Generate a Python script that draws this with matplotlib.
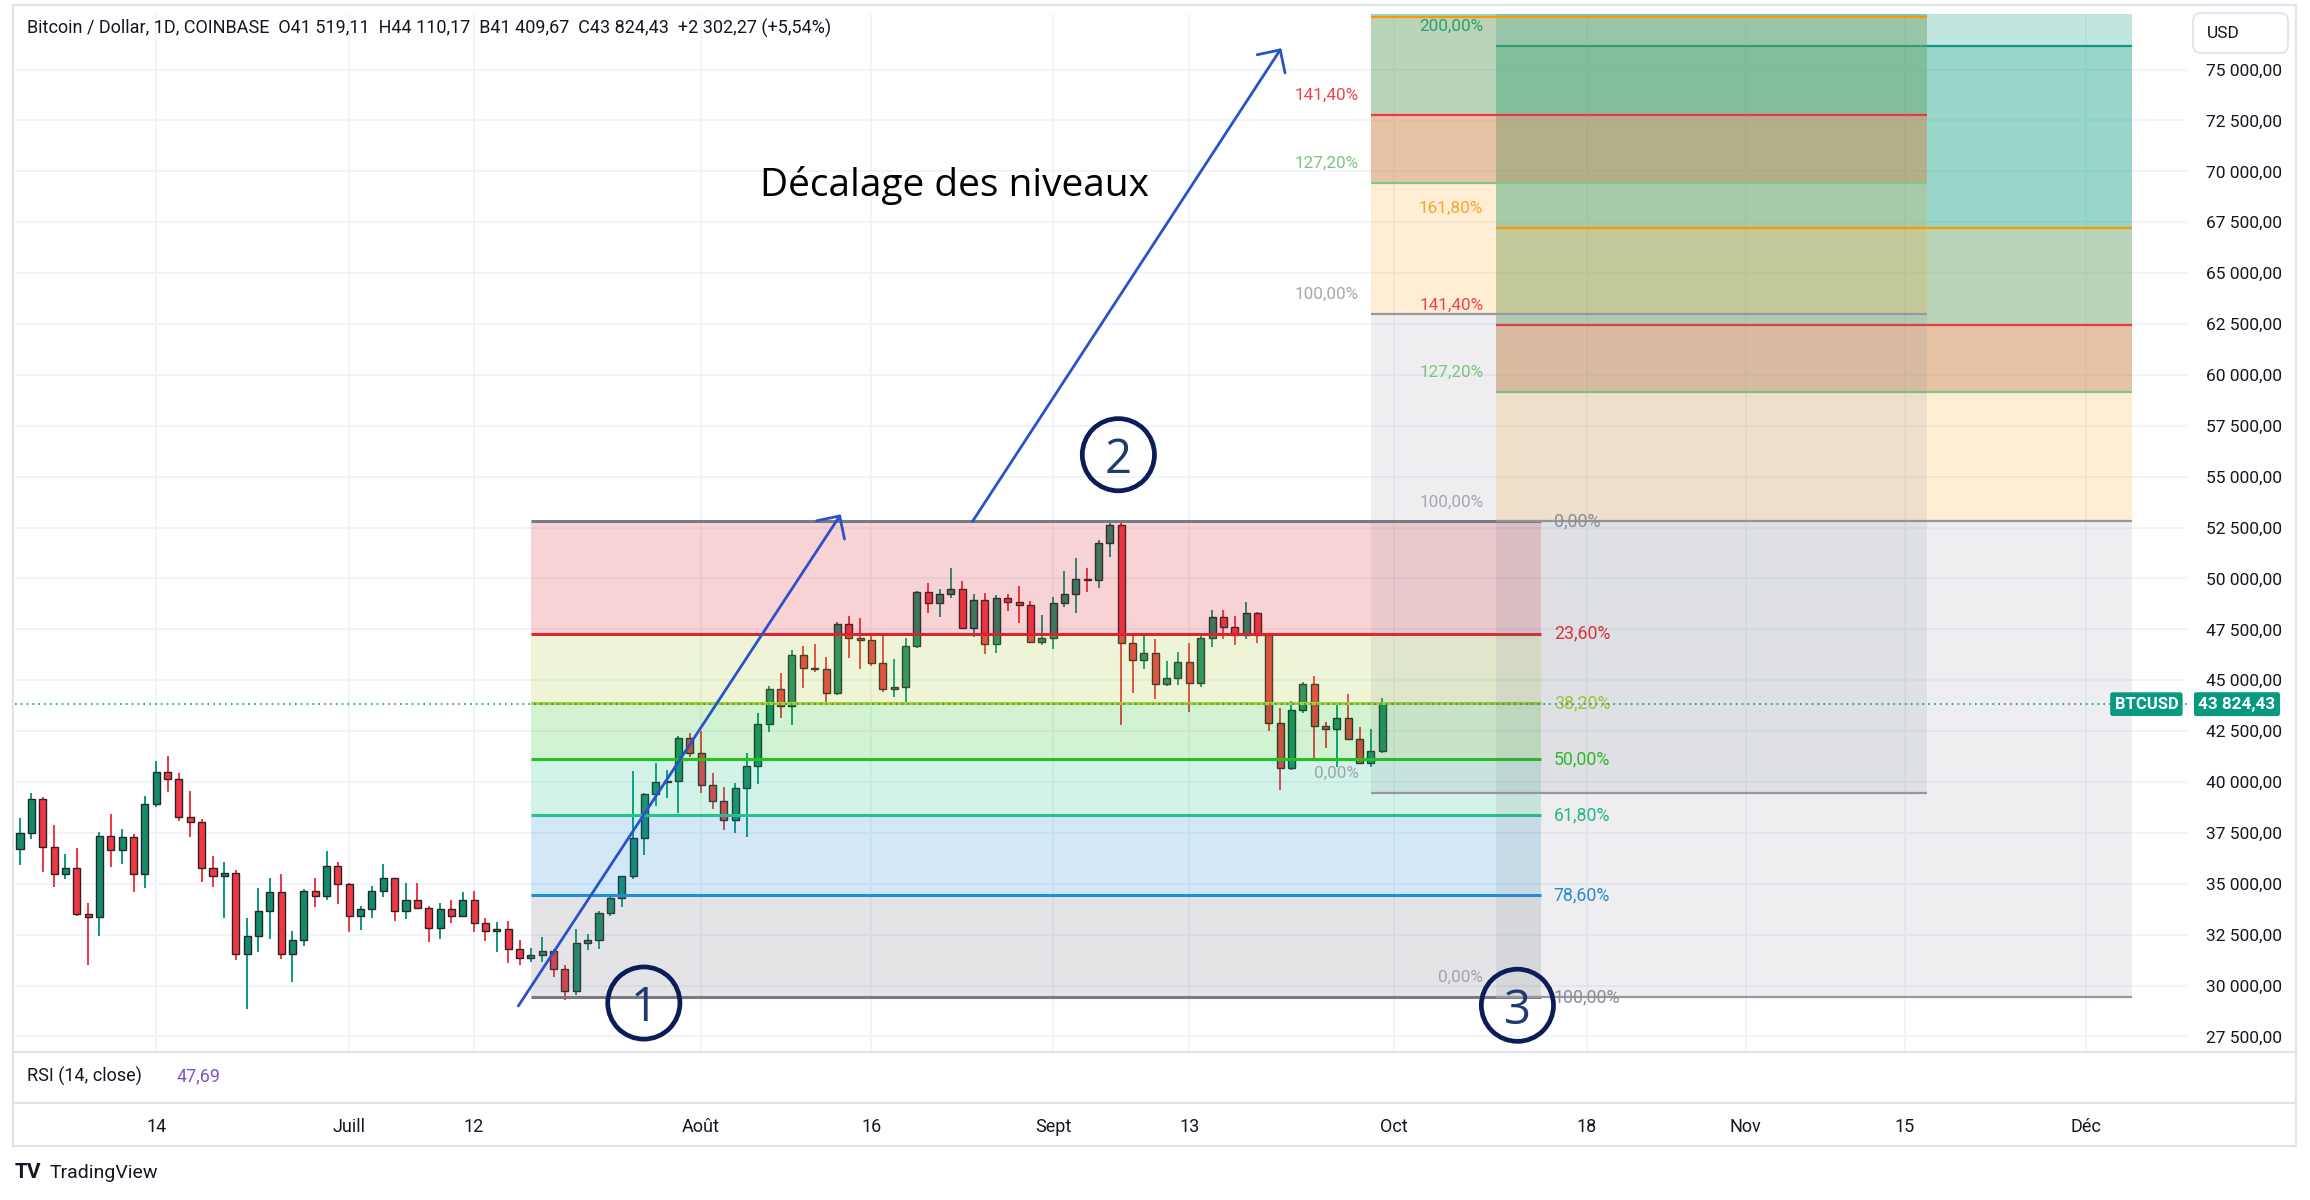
import numpy as np
import matplotlib.pyplot as plt
import matplotlib.transforms as mtransforms
from matplotlib.lines import Line2D
from matplotlib.patches import FancyBboxPatch

plt.rcParams['font.family'] = ['Roboto', 'DejaVu Sans']

W, H = 2310, 1200

# BTC / USD daily candles, Coinbase, 2 June -> 30 Sept 2021
opens = [36690, 37500, 39170, 36820, 35460, 35780, 33520, 33350, 37360, 36660,
         37280, 35460, 38920, 40510, 40130, 38300, 38020, 35760, 35380, 35550,
         31530, 32450, 33660, 34580, 31530, 32240, 34650, 34420, 35870,
         34990, 33420, 33760, 34650, 35270, 33660, 34200, 33830, 32810, 33740,
         33430, 34200, 33090, 32680, 32780, 31780, 31340, 31480, 31710, 30810,
         29750, 32070, 32240, 33580, 34290, 35390, 37230, 39390, 39980, 40050, 42180,
         41410, 39850, 39080, 38130, 39690, 40800, 42850, 44570, 43730, 46240,
         45580, 45530, 44360, 47750, 47060, 46980, 45860, 44570, 44650, 46680,
         49320, 48780, 49240, 49470, 47580, 48940, 46760, 49020, 48860, 48700, 46890,
         47060, 48780, 49230, 49990, 49920, 51730, 52630, 46810, 45990, 46320,
         44810, 45090, 45910, 44850, 47060, 48120, 47630, 47220, 48290, 47220,
         42910, 40670, 43540, 44800, 42750, 42600, 43130, 42100, 40950, 41520]
highs = [38230, 39480, 39250, 37900, 36450, 36780, 34070, 37530, 38410, 37670,
         37450, 39310, 41050, 41300, 40460, 39560, 38180, 36380, 36090, 35680,
         33300, 34810, 35270, 35480, 32700, 34730, 35270, 36630, 36090,
         35020, 33910, 34890, 35960, 35270, 35020, 35020, 33910, 34040, 34200,
         34580, 34660, 33300, 33100, 33170, 32240, 31860, 32400, 31810, 31010,
         32760, 32530, 33650, 34500, 35400, 40540, 39450, 40920, 40590, 42260, 42390,
         42520, 40460, 39770, 39930, 41440, 43370, 44720, 45340, 46490, 46700,
         46780, 46160, 47880, 48160, 48040, 47170, 47170, 46030, 47060, 49390,
         49770, 49500, 50500, 49860, 49260, 49300, 49180, 49240, 49630, 48900, 48200,
         49110, 50380, 50990, 50530, 51890, 52780, 52780, 47250, 47250, 47010,
         45940, 46400, 46850, 47220, 48450, 48450, 48160, 48830, 48370, 47300,
         43620, 44000, 44930, 45210, 42960, 43780, 44320, 42720, 42590, 44110]
lows = [35900, 37200, 35600, 34850, 35220, 33400, 31000, 32430, 35840, 35970,
        34610, 34780, 38750, 39520, 38100, 37310, 35100, 34860, 33330, 31250,
        28830, 31660, 32270, 31290, 30160, 31960, 33840, 34200, 34010,
        32650, 32730, 33300, 34370, 33170, 33250, 33790, 32120, 32290, 33060,
        33350, 32650, 32200, 31630, 31090, 31010, 31160, 31160, 30400, 29300,
        29530, 31750, 31800, 33400, 33880, 35230, 36410, 38820, 39200, 38460, 41240,
        39440, 38660, 37640, 37480, 37310, 39900, 42440, 43130, 42800, 44600,
        45420, 43860, 44270, 46080, 45540, 45700, 44400, 44190, 43950, 46600,
        48280, 48100, 49050, 47550, 47110, 46290, 46360, 48420, 47800, 46880, 46730,
        46520, 48600, 48290, 49350, 49510, 51040, 42800, 44390, 45530, 44060,
        44720, 44770, 43420, 44680, 46650, 47010, 46730, 47010, 46810, 42520,
        39610, 40590, 43370, 41160, 41650, 40750, 42090, 40880, 40720, 41410]
closes = [37500, 39170, 36820, 35460, 35780, 33520, 33350, 37360, 36660, 37280,
          35460, 38920, 40510, 40130, 38300, 38020, 35760, 35380, 35550, 31530,
          32450, 33660, 34580, 31530, 32240, 34650, 34420, 35870, 34990,
          33420, 33760, 34650, 35270, 33660, 34200, 33830, 32810, 33740, 33430,
          34200, 33090, 32680, 32780, 31780, 31340, 31480, 31710, 30810, 29750,
          32070, 32240, 33580, 34290, 35390, 37230, 39390, 39980, 40050, 42180, 41410,
          39850, 39080, 38130, 39690, 40800, 42850, 44570, 43730, 46240, 45580,
          45530, 44360, 47750, 47060, 46980, 45860, 44570, 44650, 46680, 49320,
          48780, 49240, 49470, 47580, 48940, 46760, 49020, 48860, 48700, 46890, 47060,
          48780, 49230, 49990, 49920, 51730, 52630, 46810, 45990, 46320, 44810,
          45090, 45910, 44850, 47060, 48120, 47630, 47220, 48290, 47220, 42910,
          40670, 43540, 44800, 42750, 42600, 43130, 42100, 40950, 41520, 43824.43]

last_bar = [41519.11, 44110.17, 41409.67, 43824.43]
change, change_pct = 2302.27, 5.54
rsi_value = 47.69

origin = np.datetime64('2021-06-14')
dates = np.arange('2021-06-02', '2021-10-01', dtype='datetime64[D]')
days = (dates - origin).astype(int)


def day_of(s):
    return int((np.datetime64(s) - origin).astype(int))


tick_dates = ['2021-06-14', '2021-07-01', '2021-07-12', '2021-08-01', '2021-08-16', '2021-09-01',
              '2021-09-13', '2021-10-01', '2021-10-18', '2021-11-01', '2021-11-15', '2021-12-01']
tick_labels = ['14', 'Juill', '12', 'Août', '16', 'Sept', '13', 'Oct', '18', 'Nov', '15', 'Déc']
price_ticks = np.arange(27500, 75001, 2500)

# fibonacci retracement (swing low 20 juill -> high 7 sept)
fib_high, fib_low = 52800, 29440
fib_start, fib_end = '2021-07-17', '2021-10-14'
fib_levels = [0, 0.236, 0.382, 0.5, 0.618, 0.786, 1]
fib_colors = ['#787b86', '#dc2430', '#aacd32', '#1fc41f', '#26c28c', '#1e8fd2', '#787b86']
fib_label_colors = ['#8a8d96', '#d8343c', '#a2c03a', '#2db92d', '#22b887', '#2a8ad0', '#8a8d96']

# trend based fib extensions
ext_levels = [0, 1, 1.272, 1.414, 1.618, 2.0, 2.272]
ext_line_colors = ['#9598a1', '#9598a1', '#81c784', '#f23645', '#ff9800', '#089981']
ext_label_colors = ['#a0a3ab', '#a6a8b0', '#7cc47f', '#f0424f', '#f7a530', '#2e9c6c']
ext_fills = [('#787b86', 0.12), ('#ff9800', 0.17), ('#cd894b', 0.5),
             ('#67a367', 0.46), ('#31af95', 0.5), ('#31af95', 0.3)]
ext_a = dict(base=39460, rng=23550, start='2021-09-29', end='2021-11-17', n_lines=5, n_fills=5)
ext_b = dict(base=29440, rng=23360, start='2021-10-10', end='2021-12-05', n_lines=6, n_fills=6)

# hand drawn annotations (day offset, price)
arrows = [((31.9, 29000), (60.3, 53150)), ((71.9, 52800), (99.1, 76050))]
circles = [(42.95, 29140, '1'), (84.75, 56080, '2'), (119.9, 29030, '3')]
note_pos = (53.2, 69300)

fig = plt.figure(figsize=(W / 100, H / 100), dpi=100)


def fig_rect(l, t, r, b):
    return [l / W, 1 - b / H, (r - l) / W, (b - t) / H]


ax = fig.add_axes(fig_rect(15, 14, 2187, 1052))
ax_rsi = fig.add_axes(fig_rect(15, 1052, 2187, 1103))
xlim = (-12.44, 178.88)
ylim = (26734, 77732)
ax.set_xlim(*xlim)
ax_rsi.set_xlim(*xlim)
ax.set_ylim(*ylim)
for a in (ax, ax_rsi):
    for s in a.spines.values():
        s.set_visible(False)

ax.set_xticks([day_of(d) for d in tick_dates])
ax.set_yticks(price_ticks)
ax.set_yticklabels([f'{v:,.2f}'.replace(',', ' ').replace('.', ',') for v in price_ticks])
ax.yaxis.tick_right()
ax.tick_params(axis='x', length=0, labelbottom=False)
ax.tick_params(axis='y', length=0, pad=14, labelsize=12.5, labelcolor='#131722')
ax.grid(True, color='#f0f3fa', lw=1.3)
ax.set_axisbelow(True)

ax_rsi.set_yticks([])
ax_rsi.set_xticks([day_of(d) for d in tick_dates])
ax_rsi.set_xticklabels(tick_labels)
ax_rsi.tick_params(axis='x', length=0, pad=11, labelsize=13, labelcolor='#131722')

# candles
o, h, l, c = map(np.array, (opens, highs, lows, closes))
up = c >= o
body_col = np.where(up, '#138c6e', '#f23645')
wick_col = np.where(up, '#089981', '#f23645')
ax.vlines(days, l, h, colors=wick_col, lw=1.4, zorder=2)
ax.bar(days, np.maximum(np.abs(c - o), 70), bottom=np.minimum(o, c), width=0.62,
       color=body_col, edgecolor='#262626', linewidth=1.0, zorder=2.1)

# retracement
fx0, fx1 = day_of(fib_start), day_of(fib_end)
fib_prices = [fib_high - k * (fib_high - fib_low) for k in fib_levels]
for i in range(1, len(fib_levels)):
    ax.fill_between([fx0, fx1], fib_prices[i - 1], fib_prices[i], color=fib_colors[i],
                    alpha=0.2, lw=0, zorder=3)
for k, p, col, lcol in zip(fib_levels, fib_prices, fib_colors, fib_label_colors):
    ax.hlines(p, fx0, fx1, colors=col, lw=2.2, zorder=3.5)
    ax.annotate(f'{k * 100:.2f}%'.replace('.', ','), (fx1, p), xytext=(9, 0),
                textcoords='offset points', ha='left', va='center', color=lcol,
                fontsize=12.8, zorder=5)


def draw_ext(base, rng, start, end, n_lines, n_fills, z):
    x0, x1 = day_of(start), day_of(end)
    prices = [base + k * rng for k in ext_levels]
    for i in range(n_fills):
        col, alpha = ext_fills[i]
        ax.fill_between([x0, x1], prices[i], prices[i + 1], color=col, alpha=alpha,
                        lw=0, zorder=z)
    for i in range(n_lines):
        ax.hlines(prices[i], x0, x1, colors=ext_line_colors[i], lw=1.6, zorder=z + 0.05)
        if prices[i] + 1500 > ylim[1]:
            continue  # label would sit above the pane
        ax.annotate(f'{ext_levels[i] * 100:.2f}%'.replace('.', ','), (x0, prices[i]),
                    xytext=(-9, 14), textcoords='offset points', ha='right', va='center',
                    color=ext_label_colors[i], fontsize=12.3, zorder=5)


draw_ext(**ext_b, z=3.6)
draw_ext(**ext_a, z=3.8)

# last price line + labels
last = last_bar[3]
ax.axhline(last, color='#089981', ls=(0, (1, 2.5)), lw=1.2, zorder=5)
tr = mtransforms.blended_transform_factory(ax.transAxes, ax.transData)
ax.text(0.9813, last, 'BTCUSD', transform=tr, ha='center', va='center', color='white',
        fontsize=12, fontweight='bold', zorder=9, clip_on=False,
        bbox=dict(boxstyle='round,pad=0.26,rounding_size=0.15', fc='#089981', ec='none'))
ax.text(1.0230, last, f'{last:,.2f}'.replace(',', ' ').replace('.', ','), transform=tr,
        ha='center', va='center', color='white', fontsize=12.3, fontweight='bold', zorder=9,
        clip_on=False,
        bbox=dict(boxstyle='round,pad=0.26,rounding_size=0.15', fc='#089981', ec='none'))

# annotations
for start, end in arrows:
    ax.annotate('', xy=end, xytext=start, annotation_clip=False, zorder=7,
                arrowprops=dict(arrowstyle='->,head_length=0.6,head_width=0.6', color='#2a52c9',
                                lw=2.0, shrinkA=0, shrinkB=0, mutation_scale=20))
cx, cy, ct = zip(*circles)
ax.scatter(cx, cy, s=2700, facecolors='none', edgecolors='#0b1c58', linewidths=3.4,
           zorder=8, clip_on=False)
for x, y, t in circles:
    ax.text(x, y, t, ha='center', va='center_baseline', fontsize=34, color='#1e3a6e',
            family=['Open Sans', 'DejaVu Sans'], zorder=8)
ax.text(note_pos[0], note_pos[1], 'Décalage des niveaux', ha='left', va='center', fontsize=28,
        color='black', family=['Open Sans', 'DejaVu Sans'], zorder=7)

# header / panes text
fmt = lambda v: f'{v:,.2f}'.replace(',', ' ').replace('.', ',')
header = (f'Bitcoin / Dollar, 1D, COINBASE  O{fmt(last_bar[0])}  H{fmt(last_bar[1])}  '
          f'B{fmt(last_bar[2])}  C{fmt(last_bar[3])}  +{fmt(change)} (+{change_pct:.2f}%)'.replace('.', ','))
fig.text(27 / W, 1 - 28 / H, header, fontsize=13, color='#131722', va='center')
fig.text(27 / W, 1 - 1076 / H, 'RSI (14, close)', fontsize=13, color='#131722', va='center')
fig.text(177 / W, 1 - 1076 / H, f'{rsi_value:.2f}'.replace('.', ','), fontsize=13,
         color='#7e57c2', va='center')
fig.text(15 / W, 1 - 1173 / H, 'TV', fontsize=15, fontweight='bold', color='#131722', va='center')
fig.text(50 / W, 1 - 1173 / H, 'TradingView', fontsize=14, color='#131722', va='center')

usd = FancyBboxPatch((2193, H - 53), 95, 40, boxstyle='round,pad=0,rounding_size=8',
                     transform=mtransforms.IdentityTransform(), fc='white', ec='#e0e3eb', lw=1.3)
fig.add_artist(usd)
fig.text(2207 / W, 1 - 34 / H, 'USD', fontsize=12.5, color='#131722', va='center')

# frame
frame = '#e0e3eb'
for y in (5, 1052, 1103, 1146):
    fig.add_artist(Line2D([13 / W, 2296 / W], [1 - y / H, 1 - y / H], color=frame, lw=1.5))
for x in (13, 2296):
    fig.add_artist(Line2D([x / W, x / W], [1 - 5 / H, 1 - 1146 / H], color=frame, lw=1.5))

fig.savefig('out.png', dpi=100)
